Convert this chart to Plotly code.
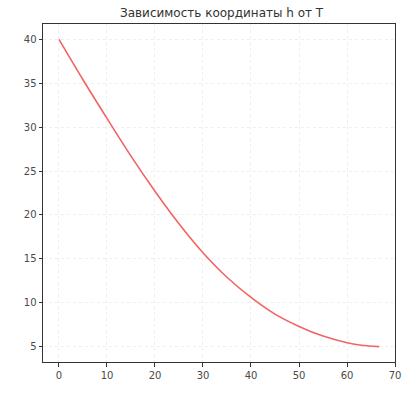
import plotly.graph_objects as go

T = [0, 5, 10, 15, 20, 25, 30, 35, 40, 45, 50, 55, 60, 63, 66.7]
H = [40, 35.4, 31.0, 26.7, 22.7, 19.0, 15.7, 12.9, 10.6, 8.7, 7.3, 6.2, 5.45, 5.15, 5.0]

x_ticks = [0, 10, 20, 30, 40, 50, 60, 70]
y_ticks = [5, 10, 15, 20, 25, 30, 35, 40]
title = "Зависимость координаты h от T"

fig = go.Figure()
fig.add_trace(go.Scatter(x=T, y=H, mode="lines", line=dict(color="#f26464", width=1.6, shape="spline"),
                         showlegend=False))

axis_common = dict(showline=True, mirror=True, linecolor="#333333", linewidth=1,
                   ticks="outside", ticklen=3.5, tickcolor="#333333", tickwidth=1,
                   showgrid=True, gridcolor="#efefef", griddash="dot", gridwidth=1,
                   zeroline=False, tickfont=dict(size=10, color="#4a4a4a", family="DejaVu Sans"))

fig.update_layout(
    width=413, height=393,
    margin=dict(l=43, r=13, t=24, b=21),
    paper_bgcolor="white", plot_bgcolor="white",
    title=dict(text=title, x=0.5365, xanchor="center", y=0.967, yanchor="middle",
               font=dict(size=12, color="#333333", family="DejaVu Sans")),
    xaxis=dict(range=[-3.33, 70.0], tickvals=x_ticks, **axis_common),
    yaxis=dict(range=[3.25, 41.75], tickvals=y_ticks, **axis_common),
)

fig.write_html("out.html")
